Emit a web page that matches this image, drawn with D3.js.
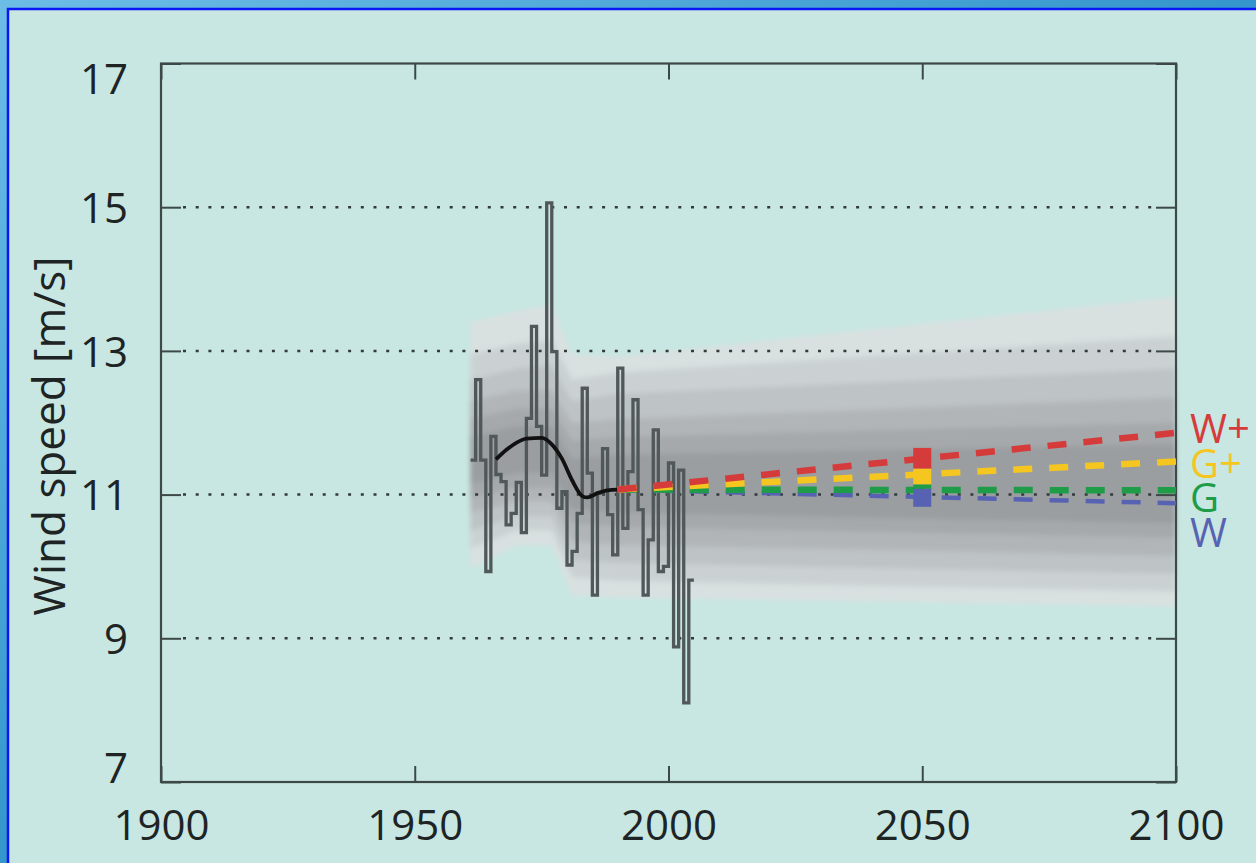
<!DOCTYPE html>
<html lang="en">

<head>
  <meta charset="UTF-8">
  <title>Wind speed</title>
  <script src="https://d3js.org/d3.v7.min.js"></script>
  <style>
    body { margin: 0; background: #3a9ad0; }
    svg { display: block; }
    text { font-family: "Open Sans", "DejaVu Sans", sans-serif; }
  </style>
</head>

<body>
  <svg id="chart" width="1256" height="863"></svg>

  <script>
    // observed yearly values (step line), first year 1961
    const obsStart = 1961;
    const obsValues = [11.48, 12.60, 11.48, 9.93, 11.81, 11.28, 11.18, 10.58, 10.74, 11.17,
      10.47, 12.06, 13.34, 11.95, 11.27, 15.06, 12.99, 10.81, 11.04, 10.02,
      10.21, 10.74, 12.48, 11.30, 9.60, 11.02, 11.64, 10.72, 10.16, 12.76,
      10.53, 11.32, 12.32, 10.79, 9.60, 10.37, 11.90, 9.93, 10.00, 11.44,
      8.88, 11.34, 8.10, 9.81];

    // smoothed curve
    const smoothYears = [1966, 1968, 1970, 1972, 1975, 1977, 1979, 1981, 1983, 1984, 1986, 1988, 1990];
    const smoothValues = [11.49, 11.62, 11.72, 11.78, 11.79, 11.70, 11.50, 11.20, 10.98, 10.96, 11.02, 11.06, 11.07];

    // uncertainty fan, outermost band first
    const fanYears = [1961, 1970, 1977, 1981, 1990, 2100];
    const fanUpper = [
      [13.40, 13.55, 13.65, 12.95, 12.92, 13.75],
      [12.95, 13.10, 13.15, 12.60, 12.70, 13.20],
      [12.60, 12.75, 12.80, 12.30, 12.40, 12.75],
      [12.30, 12.45, 12.45, 12.00, 12.05, 12.35],
      [12.05, 12.20, 12.20, 11.75, 11.80, 12.00],
      [11.80, 11.95, 11.95, 11.50, 11.55, 11.70]
    ];
    const fanLower = [
      [9.98, 10.30, 10.30, 9.60, 9.57, 9.45],
      [10.25, 10.50, 10.50, 9.85, 9.80, 9.65],
      [10.50, 10.70, 10.70, 10.10, 10.05, 9.90],
      [10.75, 10.90, 10.90, 10.35, 10.30, 10.15],
      [10.95, 11.10, 11.10, 10.60, 10.55, 10.40],
      [11.15, 11.30, 11.30, 10.80, 10.75, 10.60]
    ];
    const fanColors = ["#d9e0e0", "#cbd1d2", "#bec3c5", "#b1b5b8", "#a5a9ac", "#9a9ea1"];

    // scenarios (dashed projections)
    const scenNames = ["W", "G", "G+", "W+"];
    const scenColors = ["#5862b2", "#1f9c48", "#f4c61f", "#d63b3b"];
    const scenYears = [1990, 2100];
    const scenValues = [[11.07, 10.88], [11.07, 11.06], [11.07, 11.46], [11.07, 11.86]];
    const scenWidths = [4.5, 6.5, 6.5, 6.5];

    // 2050 marker column
    const markerYear = 2050;
    const markerColors = ["#d63b3b", "#f4c61f", "#1f9c48", "#5862b2"];
    const markerTop = [11.65, 11.36, 11.14, 11.08];
    const markerBottom = [11.36, 11.14, 11.08, 10.83];

    const xTicks = [1900, 1950, 2000, 2050, 2100];
    const yTicks = [7, 9, 11, 13, 15, 17];
    const gridValues = [9, 11, 13, 15];

    const svg = d3.select("#chart");
    const W = 1256, H = 863;
    const mLeft = 161, mRight = 1176, mTop = 63.5, mBottom = 782;

    const x = d3.scaleLinear().domain([1900, 2100]).range([mLeft, mRight]);
    const y = d3.scaleLinear().domain([7, 17]).range([mBottom, mTop]);

    // frame background
    const defs = svg.append("defs");
    const bg = defs.append("linearGradient").attr("id", "bgGrad")
      .attr("x1", 0).attr("y1", 0).attr("x2", 1).attr("y2", 1);
    bg.append("stop").attr("offset", "0%").attr("stop-color", "#6cbde6");
    bg.append("stop").attr("offset", "50%").attr("stop-color", "#3496cc");
    bg.append("stop").attr("offset", "100%").attr("stop-color", "#2a86c0");
    defs.append("filter").attr("id", "soft")
      .attr("x", "-5%").attr("y", "-5%").attr("width", "110%").attr("height", "110%")
      .append("feGaussianBlur").attr("stdDeviation", 2.5);

    svg.append("rect").attr("width", W).attr("height", H).attr("fill", "url(#bgGrad)");
    svg.append("rect").attr("x", 8).attr("y", 9).attr("width", W - 8).attr("height", H - 9)
      .attr("fill", "#c8e7e2");
    svg.append("path").attr("d", `M8,${H} V9 H${W}`)
      .attr("fill", "none").attr("stroke", "#0a16f5").attr("stroke-width", 2.5);

    // fan
    const fan = svg.append("g").attr("filter", "url(#soft)");
    fanUpper.forEach((up, i) => {
      const rows = fanYears.map((yr, j) => ({ yr: yr, hi: up[j], lo: fanLower[i][j] }));
      fan.append("path").datum(rows)
        .attr("fill", fanColors[i])
        .attr("d", d3.area().x(d => x(d.yr)).y0(d => y(d.lo)).y1(d => y(d.hi)));
    });

    // dotted gridlines
    svg.append("g").selectAll("line").data(gridValues).join("line")
      .attr("x1", mLeft + 22).attr("x2", mRight - 20)
      .attr("y1", d => y(d)).attr("y2", d => y(d))
      .attr("stroke", "#333a3a").attr("stroke-width", 2.5)
      .attr("stroke-dasharray", "3,9.7");

    // axes: ticks point inward and are mirrored
    const axisColor = "#3d4947";
    const gx = svg.append("g").attr("transform", `translate(0,${mBottom})`)
      .call(d3.axisBottom(x).tickValues(xTicks).tickFormat(d3.format("d"))
        .tickSizeInner(-16).tickSizeOuter(0).tickPadding(28));
    const gxTop = svg.append("g").attr("transform", `translate(0,${mTop})`)
      .call(d3.axisTop(x).tickValues(xTicks).tickFormat("")
        .tickSizeInner(-16).tickSizeOuter(0));
    const gy = svg.append("g").attr("transform", `translate(${mLeft},0)`)
      .call(d3.axisLeft(y).tickValues(yTicks).tickSizeInner(-20).tickSizeOuter(0).tickPadding(33));
    const gyRight = svg.append("g").attr("transform", `translate(${mRight},0)`)
      .call(d3.axisRight(y).tickValues(yTicks).tickFormat("").tickSizeInner(-20).tickSizeOuter(0));

    [gx, gxTop, gy, gyRight].forEach(g => {
      g.select(".domain").remove();
      g.selectAll(".tick line").attr("stroke", axisColor).attr("stroke-width", 2);
      g.selectAll("text").attr("fill", "#1e2424").attr("font-size", 42)
        .attr("font-family", "'Open Sans', 'DejaVu Sans', sans-serif");
    });
    // end labels sit inside the axis range
    gy.selectAll(".tick text").attr("dy", d => d === 17 ? "0.72em" : d === 7 ? "0em" : "0.36em");

    svg.append("rect").attr("x", mLeft).attr("y", mTop)
      .attr("width", mRight - mLeft).attr("height", mBottom - mTop)
      .attr("fill", "none").attr("stroke", axisColor).attr("stroke-width", 2.2);

    svg.append("text")
      .attr("transform", `translate(65,436) rotate(-90)`)
      .attr("text-anchor", "middle").attr("font-size", 44).attr("fill", "#1e2424")
      .text("Wind speed [m/s]");

    // observed step line
    const obs = obsValues.map((v, i) => ({ yr: obsStart + i, v: v }));
    obs.push({ yr: obsStart + obsValues.length, v: obsValues[obsValues.length - 1] });
    svg.append("path").datum(obs)
      .attr("fill", "none").attr("stroke", "#515859").attr("stroke-width", 3.3)
      .attr("d", d3.line().x(d => x(d.yr)).y(d => y(d.v)).curve(d3.curveStepAfter));

    // smoothed curve
    svg.append("path").datum(smoothYears.map((yr, i) => ({ yr: yr, v: smoothValues[i] })))
      .attr("fill", "none").attr("stroke", "#111").attr("stroke-width", 3.8)
      .attr("d", d3.line().x(d => x(d.yr)).y(d => y(d.v)).curve(d3.curveMonotoneX));

    // scenario projections
    scenNames.forEach((name, i) => {
      svg.append("path").datum(scenYears.map((yr, j) => ({ yr: yr, v: scenValues[i][j] })))
        .attr("fill", "none").attr("stroke", scenColors[i]).attr("stroke-width", scenWidths[i])
        .attr("stroke-dasharray", "19,17")
        .attr("d", d3.line().x(d => x(d.yr)).y(d => y(d.v)));
    });

    // 2050 marker
    svg.append("g").selectAll("rect").data(markerColors).join("rect")
      .attr("x", x(markerYear) - 9).attr("width", 18)
      .attr("y", (d, i) => y(markerTop[i]))
      .attr("height", (d, i) => y(markerBottom[i]) - y(markerTop[i]))
      .attr("fill", d => d);

    // scenario labels
    const labelNames = ["W+", "G+", "G", "W"];
    const labelColors = ["#d63b3b", "#f4c61f", "#1f9c48", "#5862b2"];
    const labelBase = [443, 478, 512, 547];
    svg.append("g").selectAll("text").data(labelNames).join("text")
      .attr("x", 1190).attr("y", (d, i) => labelBase[i])
      .attr("font-size", 40).attr("fill", (d, i) => labelColors[i])
      .text(d => d);
  </script>

</body>

</html>
